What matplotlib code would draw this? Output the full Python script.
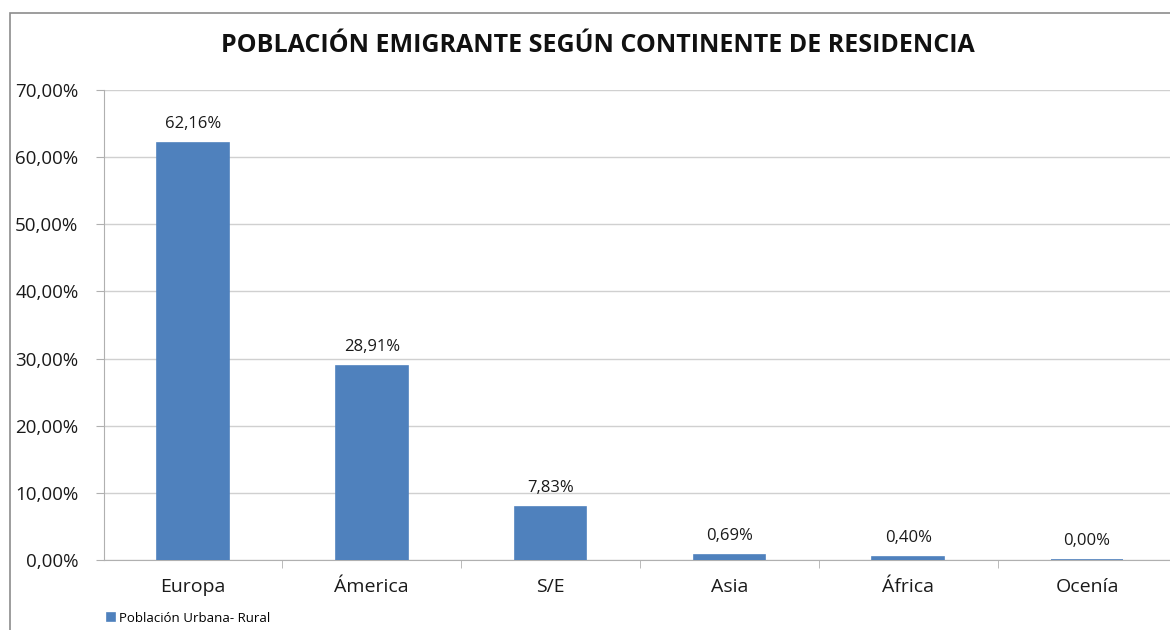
import numpy as np
import matplotlib.pyplot as plt
from matplotlib.patches import Rectangle
from matplotlib.ticker import FuncFormatter

categorias = ['Europa', 'Ámerica', 'S/E', 'Asia', 'África', 'Ocenía']
valores = [62.16, 28.91, 7.83, 0.69, 0.40, 0.00]
etiquetas = ['62,16%', '28,91%', '7,83%', '0,69%', '0,40%', '0,00%']
serie = 'Población Urbana- Rural'
titulo = 'POBLACIÓN EMIGRANTE SEGÚN CONTINENTE DE RESIDENCIA'

plt.rcParams['font.family'] = ['Open Sans', 'DejaVu Sans']

fig = plt.figure(figsize=(11.7, 6.3), dpi=100)
W, H = 1170, 630

# marco exterior del grafico (se sale por la derecha y abajo)
fig.patches.append(Rectangle((10 / W, -0.1), 1.2, 1 - 13 / H + 0.1,
                             transform=fig.transFigure, fill=False,
                             edgecolor='#8c8c8c', linewidth=1.2))

ax = fig.add_axes([103.5 / W, 70 / H, 1073 / W, 470 / H])
x = np.arange(len(categorias))
bars = ax.bar(x, valores, width=0.4, color='#4F81BD', edgecolor='#4F81BD',
              linewidth=1.2, label=serie, zorder=3)

ax.set_xlim(-0.5, len(categorias) - 0.5)
ax.set_ylim(0, 70)
ax.set_yticks(np.arange(0, 71, 10))
ax.yaxis.set_major_formatter(FuncFormatter(lambda v, p: f'{v:.2f}%'.replace('.', ',')))
ax.grid(axis='y', color='#d0d0d0', linewidth=1, zorder=0)

for s in ['top', 'right']:
    ax.spines[s].set_visible(False)
ax.spines['left'].set_color('#b0b0b0')
ax.spines['bottom'].set_color('#b0b0b0')

ax.set_xticks(x)
ax.set_xticklabels(categorias)
ax.tick_params(axis='x', length=0, pad=13, labelsize=14, labelcolor='#1a1a1a')
ax.tick_params(axis='y', length=6, color='#b0b0b0', pad=12, labelsize=13.5, labelcolor='#1a1a1a')
# marcas entre categorias
ax.set_xticks(np.arange(0.5, len(categorias) - 0.5), minor=True)
ax.tick_params(axis='x', which='minor', length=6, color='#b0b0b0')

for b, t in zip(bars, etiquetas):
    ax.annotate(t, (b.get_x() + b.get_width() / 2, b.get_height()),
                xytext=(0, 8), textcoords='offset points', ha='center', va='bottom',
                fontsize=12, color='#1a1a1a')

fig.text(598 / W, 1 - 45 / H, titulo, ha='center', va='center',
         fontsize=18, fontweight='bold', color='#111111')

ax.legend(loc='lower left', bbox_to_anchor=(102 / W, 0 / H), bbox_transform=fig.transFigure,
          frameon=False, fontsize=9.5, handlelength=0.6, handleheight=0.6, handletextpad=0.3,
          borderaxespad=0)

fig.savefig('out.png', dpi=100)
